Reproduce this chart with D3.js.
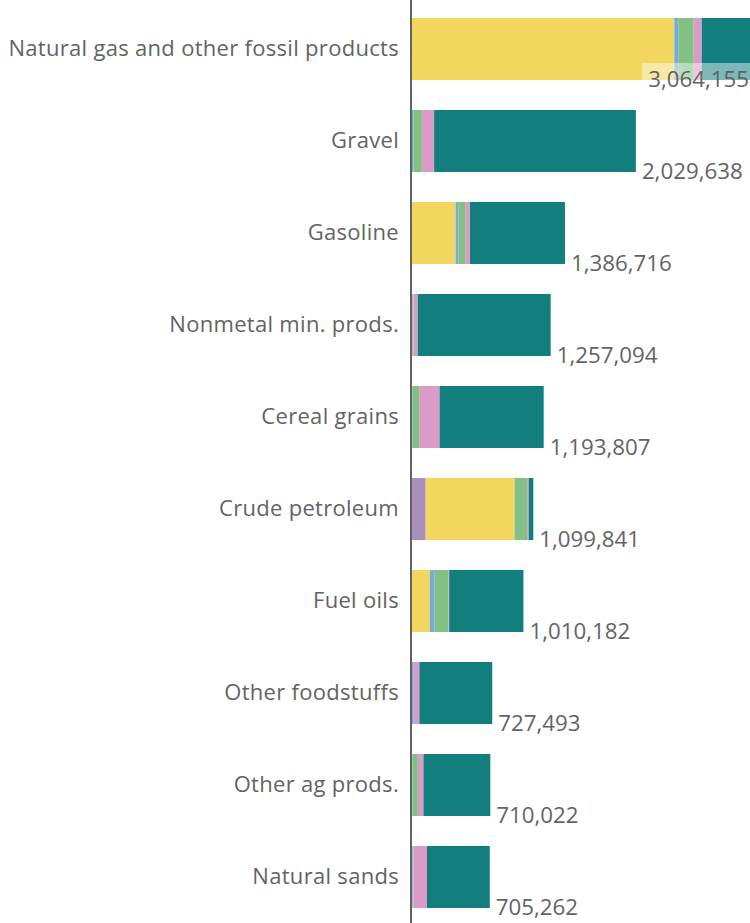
<!DOCTYPE html>
<html>
<head>
<meta charset="utf-8">
<script src="https://cdn.jsdelivr.net/npm/d3@7"></script>
<style>
  html, body { margin: 0; padding: 0; background: #fff; }
  svg { display: block; font-family: "Open Sans", "Noto Sans", sans-serif; }
</style>
</head>
<body>
<svg id="chart" width="750" height="923"></svg>
<script>
// Commodities ranked by total tonnage, split by transport mode
const categories = [
  "Natural gas and other fossil products", "Gravel", "Gasoline",
  "Nonmetal min. prods.", "Cereal grains", "Crude petroleum",
  "Fuel oils", "Other foodstuffs", "Other ag prods.", "Natural sands"
];
const totals = [3064155, 2029638, 1386716, 1257094, 1193807, 1099841, 1010182, 727493, 710022, 705262];

const modes = ["Water", "Pipeline", "Other", "Rail", "Multiple modes", "Truck"];
const water         = [0,       0,      0,      0,     0,      124000, 0,      0,     0,     0];
const pipeline      = [2378000, 0,      396000, 0,     0,      805000, 163000, 0,     0,     0];
const other         = [36000,   12000,  24000,  3000,  6000,   0,      39000,  15000, 3000,  6000];
const rail          = [140000,  77000,  67000,  10000, 63000,  114000, 127000, 0,     50000, 6000];
const multipleModes = [72500,   111500, 39000,  39000, 181000, 15000,  8000,   52000, 51000, 124000];
// truck carries the remainder of each total
const truck = totals.map((t, i) =>
  t - water[i] - pipeline[i] - other[i] - rail[i] - multipleModes[i]);

const colors = ["#a890ba", "#f2d660", "#74abe0", "#82c084", "#dc9ac8", "#127f7e"];

const rows = categories.map((c, i) => ({
  category: c,
  total: totals[i],
  Water: water[i],
  Pipeline: pipeline[i],
  Other: other[i],
  Rail: rail[i],
  "Multiple modes": multipleModes[i],
  Truck: truck[i]
}));

const svg = d3.select("#chart");
const W = 750, H = 923;
const axisX = 411;

const x = d3.scaleLinear().domain([0, d3.max(totals)]).range([axisX + 1, W]);
const y = d3.scaleBand().domain(categories).range([3, 923])
  .paddingInner(0.326).paddingOuter(0.163);
const color = d3.scaleOrdinal().domain(modes).range(colors);

const stacked = d3.stack().keys(modes)(rows);

svg.append("g")
  .selectAll("g")
  .data(stacked)
  .join("g")
  .attr("fill", d => color(d.key))
  .selectAll("rect")
  .data(d => d)
  .join("rect")
  .attr("x", d => x(d[0]))
  .attr("y", d => y(d.data.category))
  .attr("width", d => Math.max(0, x(d[1]) - x(d[0])))
  .attr("height", y.bandwidth());

// category axis on the left
const yAxis = d3.axisLeft(y).tickSize(0).tickPadding(12);
const gy = svg.append("g").attr("transform", `translate(${axisX},0)`).call(yAxis);
gy.select(".domain").attr("stroke", "#3a3a3a").attr("stroke-width", 1.6)
  .attr("d", `M0,0V${H}`);
gy.selectAll("text")
  .attr("font-size", 22)
  .attr("letter-spacing", 0.3)
  .attr("fill", "#636363")
  .attr("font-family", "'Open Sans', sans-serif");

// total labels at the end of each bar
const labels = svg.append("g");
const fmt = d3.format(",");
rows.forEach(r => {
  const endX = x(r.total);
  const baseY = y(r.category) + y.bandwidth() + 7;
  const g = labels.append("g");
  const t = g.append("text")
    .attr("x", endX + 6)
    .attr("y", baseY)
    .attr("font-size", 22.3)
    .attr("fill", "#636363")
    .text(fmt(r.total));
  const w = t.node().getComputedTextLength();
  if (endX + 6 + w > W) {
    // label would overflow: pull it back inside with a light backing
    const lx = W - w - 1;
    t.attr("x", lx);
    g.insert("rect", "text")
      .attr("x", lx - 6)
      .attr("y", baseY - 24)
      .attr("width", w + 12)
      .attr("height", 30)
      .attr("fill", "rgba(255,255,255,0.45)");
  }
});
</script>
</body>
</html>
